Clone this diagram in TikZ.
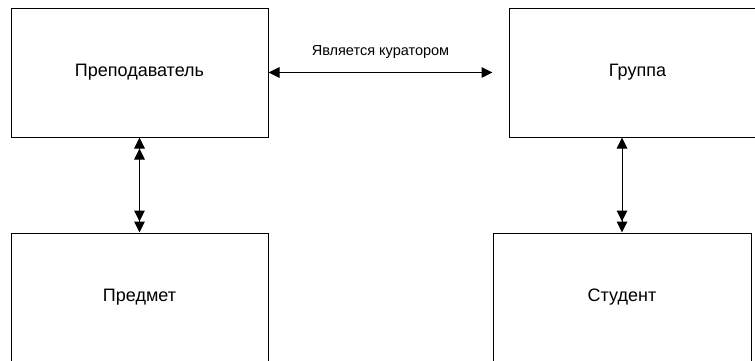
\documentclass[tikz,border=0pt]{standalone}
\usepackage{fontspec}
\setmainfont{Liberation Sans}
\usetikzlibrary{arrows.meta}
\usetikzlibrary{calc}

\tikzset{
  entbox/.style={draw, line width=1pt, minimum width=257pt, minimum height=129pt,
    inner sep=0pt, font=\fontsize{18}{21}\selectfont},
  rel/.style={line width=1pt, >={Triangle[length=11pt,width=10.5pt,sep=0pt]}}
}

\begin{document}
\begin{tikzpicture}[x=1pt,y=-1pt]
\path[use as bounding box, clip] (0,0) rectangle (755,360);
% entities
\node[entbox] (prep) at (139.5,72.5) {Преподаватель};
\node[entbox] (grp)  at (637.5,72.5) {Группа};
\node[entbox] (pred) at (139.5,297.5) {Предмет};
\node[entbox, minimum width=258pt] (stud) at (622,297.5) {Студент};
% links
\draw[rel, <->] (prep.east) -- ($(grp.west)+(-16,0)$)
  node[midway, yshift=20pt, font=\fontsize{14.5}{17}\selectfont] {Является куратором};
\draw[rel, <<->>] (prep.south) -- (pred.north);
\draw[rel, <->>] (stud.north |- grp.south) -- (stud.north);
\end{tikzpicture}
\end{document}
